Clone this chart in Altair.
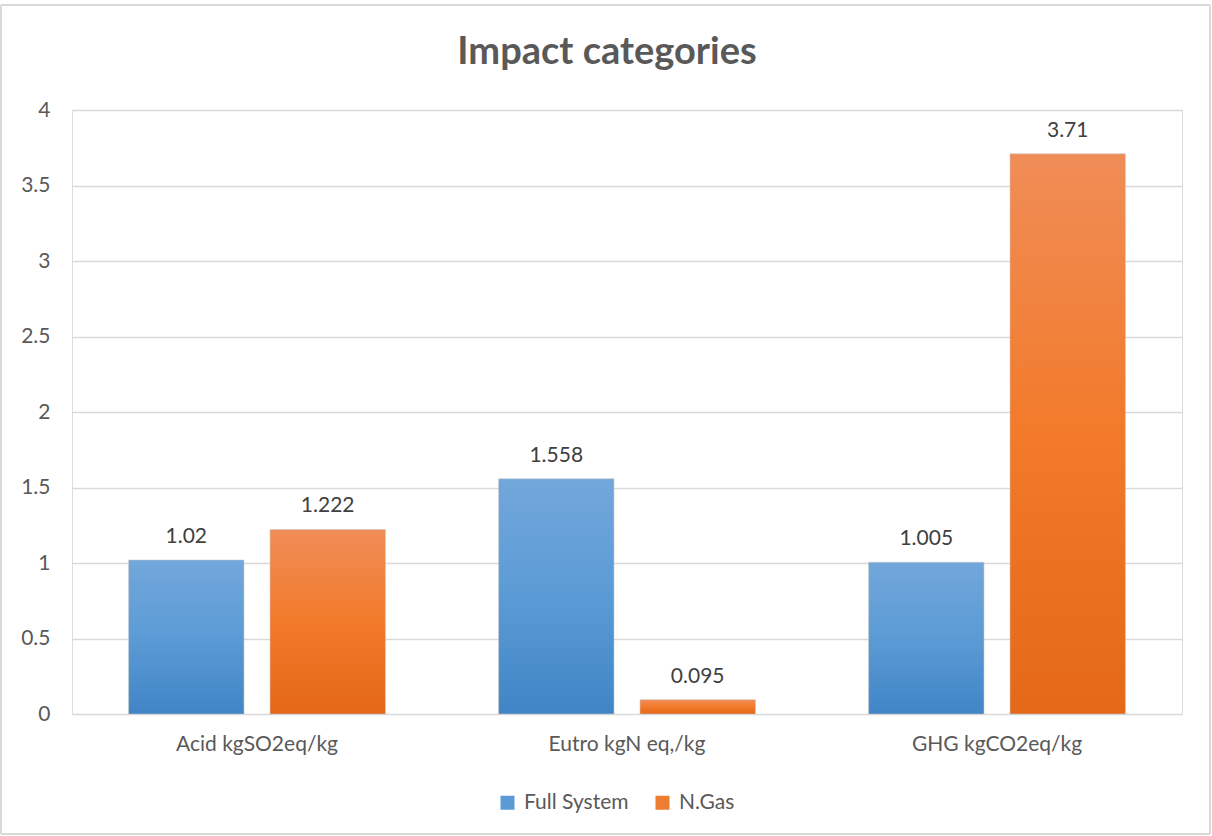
import altair as alt
import pandas as pd

categories = ["Acid kgSO2eq/kg", "Eutro kgN eq,/kg", "GHG kgCO2eq/kg"]
series_names = ["Full System", "N.Gas"]
full_system = [1.02, 1.558, 1.005]
n_gas = [1.222, 0.095, 3.71]
full_labels = ["1.02", "1.558", "1.005"]
gas_labels = ["1.222", "0.095", "3.71"]

rows = []
for c, v, l in zip(categories, full_system, full_labels):
    rows.append({"category": c, "series": "Full System", "value": v, "label": l})
for c, v, l in zip(categories, n_gas, gas_labels):
    rows.append({"category": c, "series": "N.Gas", "value": v, "label": l})
df = pd.DataFrame(rows)

FONT = "Lato"
TXT = "#595959"
FS = 21

grad_blue = alt.LinearGradient(
    gradient="linear", x1=0, x2=0, y1=0, y2=1,
    stops=[alt.GradientStop(color="#72a7db", offset=0),
           alt.GradientStop(color="#5b9bd5", offset=0.5),
           alt.GradientStop(color="#4185c6", offset=1)])
grad_orange = alt.LinearGradient(
    gradient="linear", x1=0, x2=0, y1=0, y2=1,
    stops=[alt.GradientStop(color="#f08d57", offset=0),
           alt.GradientStop(color="#f27a2a", offset=0.5),
           alt.GradientStop(color="#e46818", offset=1)])

x_enc = alt.X("category:N", sort=categories,
              scale=alt.Scale(paddingInner=0, paddingOuter=0),
              axis=alt.Axis(title=None, labelAngle=0, labelFontSize=FS, labelColor=TXT,
                            labelFont=FONT, domain=False, ticks=False, labelPadding=19))
xoff = alt.XOffset("series:N", sort=series_names,
                   scale=alt.Scale(paddingInner=0.184, paddingOuter=0.40))
y_enc = alt.Y("value:Q", scale=alt.Scale(domain=[0, 4]),
              axis=alt.Axis(title=None, values=[0, 0.5, 1, 1.5, 2, 2.5, 3, 3.5, 4], format="~g",
                            labelFontSize=FS, labelColor=TXT, labelFont=FONT, domain=False,
                            ticks=False, labelPadding=22, gridColor="#d9d9d9", gridWidth=1.3))

base = alt.Chart(df)

bars = base.mark_bar(stroke="#c9c9c9", strokeWidth=0.8, strokeOpacity=0.7).encode(
    x=x_enc, xOffset=xoff, y=y_enc,
    fill=alt.condition(alt.datum.series == "Full System", alt.value(grad_blue), alt.value(grad_orange)),
)

legend_layer = base.mark_square(opacity=0, size=196).encode(
    x=alt.X("category:N", sort=categories), xOffset=alt.XOffset("series:N", sort=series_names),
    y=alt.Y("value:Q"),
    color=alt.Color("series:N", sort=series_names,
                    scale=alt.Scale(domain=series_names, range=["#5b9bd5", "#ed7d31"]),
                    legend=alt.Legend(title=None, orient="none", legendX=425, legendY=682,
                                      direction="horizontal", symbolType="square", symbolSize=196,
                                      symbolOpacity=1, symbolStrokeWidth=0,
                                      labelFontSize=FS, labelColor=TXT, labelFont=FONT,
                                      columnPadding=23, labelOffset=6)),
)

labels = base.mark_text(fontSize=FS, color="#404040", font=FONT, baseline="alphabetic", dy=-17).encode(
    x=alt.X("category:N", sort=categories), xOffset=alt.XOffset("series:N", sort=series_names),
    y=alt.Y("value:Q"), text="label:N",
)

border_color = "#d9d9d9"
b_top = alt.Chart(df).mark_rule(color=border_color, strokeWidth=1.5).encode(
    x=alt.value(-71), x2=alt.value(1138), y=alt.value(-105))
b_bottom = alt.Chart(df).mark_rule(color=border_color, strokeWidth=1.5).encode(
    x=alt.value(-71), x2=alt.value(1138), y=alt.value(724))
b_left = alt.Chart(df).mark_rule(color=border_color, strokeWidth=1.5).encode(
    x=alt.value(-71), y=alt.value(-105), y2=alt.value(724))
b_right = alt.Chart(df).mark_rule(color=border_color, strokeWidth=1.5).encode(
    x=alt.value(1138), y=alt.value(-105), y2=alt.value(724))

chart = alt.layer(bars, legend_layer, labels, b_top, b_bottom, b_left, b_right).properties(
    width=1110, height=604,
    title=alt.TitleParams("Impact categories", fontSize=38, font=FONT, fontWeight="bold",
                          color=TXT, anchor="middle", offset=-68, dx=-20),
    autosize=alt.AutoSizeParams(type="none"),
    padding={"left": 72, "top": 110, "right": 30, "bottom": 122},
).configure_view(stroke=None).configure(background="white")

chart.save("out.html", embed_options={"renderer": "svg", "actions": False})
